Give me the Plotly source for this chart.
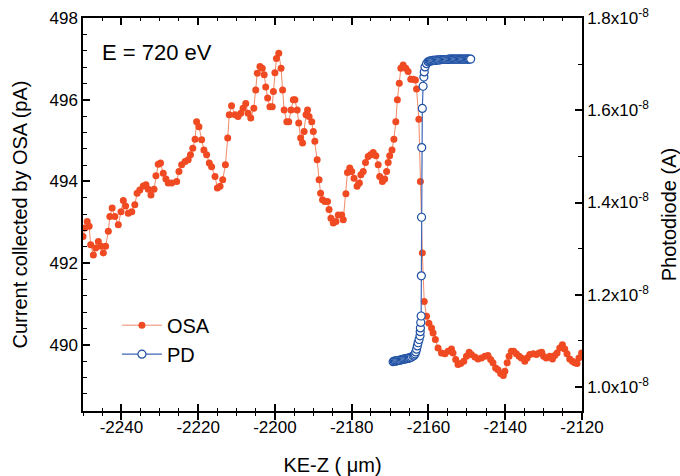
import plotly.graph_objects as go

# ---------------- data ----------------
osa_x = [-2250.0, -2249.5, -2248.9, -2248.4, -2248.0, -2247.3, -2246.7, -2246.0, -2245.3, -2244.7,
         -2244.1, -2243.4, -2243.0, -2242.4, -2241.7, -2240.8, -2240.1, -2239.5, -2238.9, -2238.2,
         -2237.3, -2236.5, -2235.9, -2235.2, -2234.3, -2233.6, -2233.0, -2232.3, -2231.5, -2231.0,
         -2230.4, -2229.8, -2229.1, -2228.4, -2227.8, -2226.9, -2225.6, -2225.0, -2224.3, -2223.4,
         -2222.6, -2222.0, -2221.4, -2220.8, -2220.4, -2219.8, -2219.1, -2218.5, -2217.8, -2217.1,
         -2216.5, -2215.6, -2215.0, -2214.3, -2213.6, -2212.9, -2212.3, -2211.9, -2211.3, -2210.4,
         -2209.6, -2208.9, -2208.3, -2207.6, -2207.0, -2206.3, -2205.5, -2205.0, -2204.6, -2203.9,
         -2203.3, -2202.8, -2202.4, -2201.9, -2201.3, -2200.7, -2200.4, -2200.0, -2199.6, -2199.0,
         -2198.4, -2198.0, -2197.6, -2196.9, -2196.4, -2195.8, -2195.2, -2194.8, -2194.2, -2193.8,
         -2193.3, -2192.8, -2192.4, -2191.9, -2191.5, -2191.1, -2190.4, -2190.0, -2189.6, -2189.0,
         -2188.5, -2188.1, -2187.6, -2187.0, -2186.3, -2185.9, -2185.4, -2184.8, -2184.1, -2183.5,
         -2182.6, -2182.2, -2181.5, -2181.1, -2180.5, -2180.0, -2179.4, -2178.6, -2178.0, -2177.6,
         -2177.0, -2176.4, -2175.7, -2175.1, -2174.4, -2173.7, -2173.1, -2172.7, -2172.0, -2171.4,
         -2170.9, -2170.5, -2170.1, -2169.5, -2169.0, -2168.5, -2168.1, -2167.6, -2167.2, -2166.6,
         -2165.9, -2165.3, -2164.6, -2164.0, -2163.4, -2163.1, -2162.5, -2162.1, -2161.6, -2161.1,
         -2160.5, -2159.9, -2159.2, -2158.8, -2158.2, -2157.5, -2156.6, -2155.7, -2154.9, -2154.0,
         -2153.6, -2152.9, -2152.3, -2151.6, -2150.8, -2150.1, -2149.4, -2148.8, -2147.9, -2147.1,
         -2146.2, -2145.3, -2144.5, -2143.8, -2143.2, -2142.5, -2141.9, -2141.2, -2140.5, -2140.1,
         -2139.5, -2139.0, -2138.4, -2137.8, -2137.1, -2136.4, -2135.8, -2134.9, -2134.3, -2133.6,
         -2132.7, -2131.9, -2131.2, -2130.5, -2130.0, -2129.3, -2128.4, -2127.7, -2127.1, -2126.5,
         -2125.8, -2125.1, -2124.5, -2123.9, -2123.2, -2122.5, -2121.9, -2121.3, -2120.8, -2120.1]

osa_y = [492.65, 492.86, 493.02, 492.90, 492.45, 492.20, 492.37, 492.53, 492.41, 492.25,
         492.41, 492.78, 493.14, 493.35, 493.14, 492.94, 493.26, 493.53, 493.40, 493.22,
         493.26, 493.43, 493.71, 493.79, 493.89, 493.92, 493.81, 493.67, 493.81, 494.14,
         494.42, 494.45, 494.20, 494.06, 493.96, 493.96, 494.00, 494.24, 494.41, 494.49,
         494.53, 494.65, 494.81, 495.03, 495.46, 495.34, 495.02, 494.77, 494.65, 494.45,
         494.36, 494.12, 493.84, 493.88, 494.04, 494.41, 495.06, 495.63, 495.85, 495.63,
         495.59, 495.67, 495.79, 495.91, 495.67, 495.55, 495.79, 496.24, 496.65, 496.81,
         496.77, 496.61, 496.31, 496.04, 495.83, 495.83, 496.20, 496.66, 497.01, 497.14,
         496.77, 496.24, 495.75, 495.46, 495.46, 495.75, 496.00, 496.00, 495.75, 495.43,
         495.06, 494.94, 495.22, 495.63, 495.75, 495.59, 495.46, 495.22, 494.98, 494.53,
         494.04, 493.71, 493.55, 493.51, 493.51, 493.31, 493.10, 492.98, 493.02, 493.18,
         493.18, 493.06, 493.70, 494.22, 494.33, 494.24, 494.08, 493.88, 493.96, 494.16,
         494.24, 494.46, 494.61, 494.65, 494.71, 494.63, 494.41, 494.12, 494.00, 494.06,
         494.24, 494.46, 494.63, 494.77, 495.03, 495.46, 496.00, 496.40, 496.77, 496.85,
         496.77, 496.69, 496.50, 496.50, 496.48, 496.26, 495.52, 494.00, 492.25, 491.06,
         490.70, 490.53, 490.41, 490.29, 490.13, 489.92, 489.80, 489.78, 489.84, 489.90,
         489.80, 489.64, 489.52, 489.54, 489.60, 489.72, 489.82, 489.76, 489.70, 489.65,
         489.68, 489.72, 489.74, 489.64, 489.56, 489.43, 489.39, 489.30, 489.25, 489.35,
         489.56, 489.72, 489.84, 489.84, 489.78, 489.72, 489.68, 489.60, 489.68, 489.76,
         489.78, 489.76, 489.80, 489.82, 489.72, 489.68, 489.72, 489.65, 489.74, 489.80,
         489.92, 490.00, 489.90, 489.78, 489.65, 489.60, 489.56, 489.54, 489.68, 489.80]

pd_x = [-2169.2, -2168.9, -2168.6, -2168.3, -2168.0, -2167.7, -2167.4, -2167.1, -2166.8, -2166.5,
        -2166.2, -2165.9, -2165.6, -2165.3, -2165.0, -2164.7, -2164.4, -2164.0, -2163.7, -2163.5,
        -2163.3, -2163.1, -2162.9, -2162.7, -2162.45, -2162.2, -2162.15, -2162.1, -2162.0, -2161.9,
        -2161.85, -2161.8, -2161.75, -2161.6, -2161.4, -2161.2, -2161.1, -2160.9, -2160.5, -2160.1,
        -2159.8, -2159.5, -2159.2, -2158.9, -2158.6, -2158.3, -2158.0, -2157.7, -2157.4, -2157.1,
        -2156.8, -2156.5, -2156.2, -2155.9, -2155.6, -2155.3, -2155.0, -2154.7, -2154.4, -2154.1,
        -2153.8, -2153.5, -2153.2, -2152.9, -2152.6, -2152.3, -2152.0, -2151.7, -2151.4, -2151.1,
        -2150.8, -2150.5, -2150.2, -2149.9, -2149.6, -2149.3, -2149.0]

# photodiode current in units of 1e-8 A
pd_y_e8 = [1.055, 1.056, 1.056, 1.057, 1.057, 1.058, 1.058, 1.059, 1.060, 1.060,
           1.061, 1.061, 1.062, 1.062, 1.063, 1.064, 1.065, 1.067, 1.069, 1.072,
           1.076, 1.082, 1.089, 1.096, 1.103, 1.111, 1.120, 1.128, 1.140, 1.154,
           1.241, 1.368, 1.519, 1.604, 1.652, 1.672, 1.683, 1.694, 1.701, 1.705,
           1.706, 1.707, 1.707, 1.708, 1.708, 1.708, 1.709, 1.709, 1.709, 1.709,
           1.710, 1.710, 1.710, 1.710, 1.710, 1.710, 1.710, 1.711, 1.711, 1.711,
           1.711, 1.711, 1.711, 1.711, 1.711, 1.711, 1.711, 1.711, 1.711, 1.711,
           1.711, 1.711, 1.711, 1.711, 1.711, 1.711, 1.711]
pd_y = [v * 1e-8 for v in pd_y_e8]

x_tickvals = [-2240, -2220, -2200, -2180, -2160, -2140, -2120]
x_ticktext = ["-2240", "-2220", "-2200", "-2180", "-2160", "-2140", "-2120"]
y1_tickvals = [490, 492, 494, 496, 498]
y2_tickvals_e8 = [1.0, 1.2, 1.4, 1.6, 1.8]
y2_tickvals = [v * 1e-8 for v in y2_tickvals_e8]
y2_ticktext = ["%.1fx10<sup>-8</sup>" % v for v in y2_tickvals_e8]

# ---------------- figure ----------------
FONT = "Arial, Liberation Sans, Helvetica, sans-serif"
OSA_MARK = "#f04a22"
OSA_LINE = "#f28a68"
PD_EDGE = "#1d4fa3"
PD_LINE = "#3f66b8"

fig = go.Figure()
fig.add_trace(go.Scatter(
    x=osa_x, y=osa_y, name="OSA", mode="lines+markers",
    line=dict(color=OSA_LINE, width=1),
    marker=dict(color=OSA_MARK, size=7, line=dict(width=0)),
    xaxis="x", yaxis="y"))
fig.add_trace(go.Scatter(
    x=pd_x, y=pd_y, name="PD", mode="lines+markers",
    line=dict(color=PD_LINE, width=1.2),
    marker=dict(symbol="circle", color="white", size=8,
                line=dict(color=PD_EDGE, width=1.2)),
    xaxis="x", yaxis="y2"))
# invisible helper trace so the bottom "outside" tick axis is drawn
fig.add_trace(go.Scatter(
    x=osa_x, y=osa_y, mode="markers", marker=dict(opacity=0, size=1),
    showlegend=False, hoverinfo="skip", xaxis="x3", yaxis="y"))

xrange = [-2250, -2120]
common_x = dict(range=xrange, showline=True, linecolor="black", linewidth=1.5,
                showgrid=False, zeroline=False, automargin=False)

fig.update_layout(
    width=680, height=476,
    margin=dict(l=83, r=98, t=18, b=65, autoexpand=False),
    paper_bgcolor="white", plot_bgcolor="white",
    font=dict(family=FONT, color="black", size=17),
    showlegend=True,
    legend=dict(x=0.068, y=0.268, xanchor="left", yanchor="top",
                bgcolor="rgba(0,0,0,0)", font=dict(size=20, family=FONT),
                itemwidth=40, tracegroupgap=0),
    xaxis=dict(**common_x,
               tickvals=x_tickvals, ticktext=x_ticktext,
               ticks="inside", ticklen=7, tickwidth=1.5, tickcolor="black",
               minor=dict(dtick=5, tick0=-2250, ticks="inside", ticklen=3,
                          tickwidth=1.2, tickcolor="black"),
               mirror="ticks",
               tickfont=dict(size=17),
               title=dict(text="KE-Z ( \u03bcm)", font=dict(size=20), standoff=23)),
    xaxis3=dict(**common_x, overlaying="x", anchor="y", side="bottom",
                tickvals=x_tickvals, showticklabels=False,
                ticks="outside", ticklen=7, tickwidth=1.5, tickcolor="black",
                minor=dict(dtick=5, tick0=-2250, ticks="outside", ticklen=3,
                           tickwidth=1.2, tickcolor="black")),
    yaxis=dict(range=[488.38, 498], showline=True, linecolor="black", linewidth=1.5,
               showgrid=False, zeroline=False, automargin=False,
               tickvals=y1_tickvals,
               ticks="inside", ticklen=7, tickwidth=1.5, tickcolor="black",
               minor=dict(dtick=0.4, tick0=490, ticks="inside", ticklen=4,
                          tickwidth=1.2, tickcolor="black"),
               tickfont=dict(size=17),
               title=dict(text="Current collected by OSA (pA)", font=dict(size=20),
                          standoff=16)),
    yaxis2=dict(range=[0.948e-8, 1.8e-8], overlaying="y", side="right", anchor="x",
                showline=True, linecolor="black", linewidth=1.5,
                showgrid=False, zeroline=False, automargin=False,
                tickvals=y2_tickvals, ticktext=y2_ticktext,
                ticks="inside", ticklen=7, tickwidth=1.5, tickcolor="black",
                minor=dict(dtick=0.1e-8, tick0=1.0e-8, ticks="inside", ticklen=4,
                           tickwidth=1.2, tickcolor="black"),
                tickfont=dict(size=17),
                title=dict(text="Photodiode (A)", font=dict(size=20), standoff=15)),
    annotations=[dict(text="E = 720 eV", xref="paper", yref="paper",
                      x=0.034, y=0.911, xanchor="left", yanchor="middle",
                      showarrow=False, font=dict(size=22, family=FONT))],
)

fig.write_html("out.html", config={"displayModeBar": False},
               post_script="document.body.style.margin='0';")
